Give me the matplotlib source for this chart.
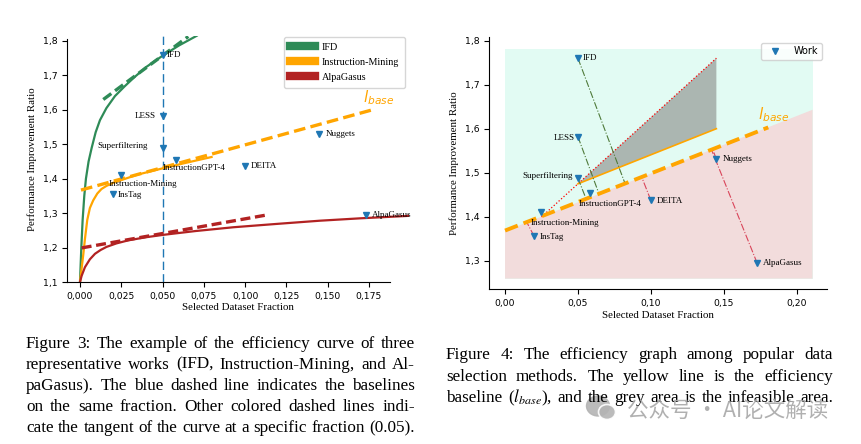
import matplotlib.pyplot as plt
from matplotlib.lines import Line2D
from matplotlib.patches import Polygon, Rectangle, Ellipse

W, H = 861, 444

# --- data ---
works = ['IFD', 'LESS', 'Superfiltering', 'InstructionGPT-4', 'DEITA',
         'Nuggets', 'AlpaGasus', 'InsTag', 'Instruction-Mining']
work_x = [0.05, 0.05, 0.05, 0.058, 0.10, 0.145, 0.173, 0.020, 0.025]
work_y = [1.760, 1.582, 1.488, 1.455, 1.438, 1.531, 1.295, 1.356, 1.412]

# figure 3: efficiency curves
ifd_x = [0, 0.0008, 0.0016, 0.0026, 0.0036, 0.0052, 0.0071, 0.0095, 0.0121,
         0.016, 0.0212, 0.027, 0.0323, 0.040, 0.050, 0.060, 0.0707]
ifd_y = [1.10, 1.20, 1.28, 1.35, 1.40, 1.45, 1.49, 1.535, 1.57,
         1.605, 1.64, 1.668, 1.692, 1.724, 1.757, 1.787, 1.815]
im_x = [0, 0.001, 0.002, 0.003, 0.0044, 0.006, 0.008, 0.0105, 0.013,
        0.016, 0.020, 0.025, 0.035, 0.050, 0.065, 0.0797]
im_y = [1.10, 1.14, 1.18, 1.225, 1.28, 1.315, 1.337, 1.357, 1.370,
        1.379, 1.388, 1.396, 1.412, 1.430, 1.447, 1.463]
alpa_x = [0, 0.001, 0.003, 0.006, 0.0091, 0.0125, 0.0161, 0.022, 0.0293,
          0.040, 0.0505, 0.070, 0.0929, 0.120, 0.1453, 0.170, 0.1988]
alpa_y = [1.10, 1.118, 1.143, 1.166, 1.182, 1.193, 1.202, 1.212, 1.221,
          1.230, 1.237, 1.248, 1.259, 1.269, 1.278, 1.285, 1.292]
ifd_tan_x, ifd_tan_y = [0.0141, 0.0656], [1.630, 1.813]
alpa_tan_x, alpa_tan_y = [0.001, 0.1147], [1.199, 1.296]
base1_x, base1_y = [0.0006, 0.1786], [1.367, 1.602]
xticks1 = [0, 0.025, 0.05, 0.075, 0.10, 0.125, 0.15, 0.175]
xlabels1 = ['0,000', '0,025', '0,050', '0,075', '0,100', '0,125', '0,150', '0,175']
yticks1 = [1.1, 1.2, 1.3, 1.4, 1.5, 1.6, 1.7, 1.8]
ylabels1 = ['1,1', '1,2', '1,3', '1,4', '1,5', '1,6', '1,7', '1,8']

# figure 4: efficiency graph
base2_x, base2_y = [0.0, 0.1806], [1.369, 1.603]
feas_x, feas_y = [0.0, 0.211], [1.26, 1.78]
below_x = [0.0, 0.211, 0.211, 0.0]
below_y = [1.368, 1.643, 1.26, 1.26]
infeas_x = [0.05, 0.145, 0.145]
infeas_y = [1.475, 1.76, 1.60]
bound_x, bound_y = [0.025, 0.145], [1.40, 1.76]
shift_x, shift_y = [0.05, 0.145], [1.475, 1.60]
above_proj = [([0.05, 0.0823], [1.760, 1.476]),
              ([0.05, 0.0645], [1.582, 1.452]),
              ([0.05, 0.0556], [1.488, 1.441])]
below_proj = [([0.020, 0.0149], [1.356, 1.388]),
              ([0.10, 0.0937], [1.438, 1.491]),
              ([0.145, 0.1424], [1.531, 1.554]),
              ([0.173, 0.1417], [1.295, 1.552])]
xticks2 = [0, 0.05, 0.10, 0.15, 0.20]
xlabels2 = ['0,00', '0,05', '0,10', '0,15', '0,20']
yticks2 = [1.3, 1.4, 1.5, 1.6, 1.7, 1.8]
ylabels2 = ['1,3', '1,4', '1,5', '1,6', '1,7', '1,8']

cap3 = ["Figure 3: The example of the efficiency curve of three",
        "representative works (IFD, Instruction-Mining, and Al-",
        "paGasus). The blue dashed line indicates the baselines",
        "on the same fraction. Other colored dashed lines indi-",
        "cate the tangent of the curve at a specific fraction (0.05)."]
cap4 = ["Figure 4: The efficiency graph among popular data",
        "selection methods. The yellow line is the efficiency",
        "baseline ($l_{base}$), and the grey area is the infeasible area."]

plt.rcParams['font.family'] = ['Liberation Serif', 'DejaVu Serif']
GREEN, ORANGE, RED, BLUE = '#2e8b57', '#ffa500', '#b22222', '#1f77b4'

fig = plt.figure(figsize=(W / 100, H / 100), dpi=100)


def style_axes(ax):
    for s in ['top', 'right']:
        ax.spines[s].set_visible(False)
    ax.tick_params(labelsize=6.7, labelfontfamily='DejaVu Sans', length=3.5, width=0.8)
    ax.set_xlabel('Selected Dataset Fraction', fontsize=7.8, labelpad=2)
    ax.set_ylabel('Performance Improvement Ratio', fontsize=7.8, labelpad=4)


def label_works(ax, offs):
    for name, x, y in zip(works, work_x, work_y):
        dx, dy, ha = offs[name]
        ax.annotate(name, (x, y), xytext=(dx, dy), textcoords='offset pixels',
                    ha=ha, va='center', fontsize=6.5, zorder=6)


# ---------------- Figure 3 ----------------
ax1 = fig.add_axes([67 / W, (H - 282) / H, 341.5 / W, 246.2 / H])
ax1.set_xlim(-0.00787, 0.199)
ax1.set_ylim(1.1, 1.815)
ax1.spines['bottom'].set_bounds(-0.00787, 0.1878)
ax1.spines['left'].set_bounds(1.1, 1.806)
ax1.axvline(0.05, color=BLUE, lw=1, dashes=(6, 3), zorder=1)
ax1.plot(ifd_x, ifd_y, color=GREEN, lw=1.6)
ax1.plot(im_x, im_y, color=ORANGE, lw=1.6)
ax1.plot(alpa_x, alpa_y, color=RED, lw=1.6)
ax1.plot(ifd_tan_x, ifd_tan_y, color=GREEN, lw=2.4, dashes=(3, 1.4))
ax1.plot(alpa_tan_x, alpa_tan_y, color=RED, lw=2.4, dashes=(3, 1.4))
ax1.plot(base1_x, base1_y, color=ORANGE, lw=2.4, dashes=(3.5, 1.6))
ax1.plot(work_x, work_y, 'v', color=BLUE, ms=5, zorder=5)
ax1.text(0.1716, 1.621, r'$l_{base}$', color=ORANGE, fontsize=11,
         math_fontfamily='dejavusans')
label_works(ax1, {'IFD': (4, 0, 'left'), 'LESS': (-7, 0, 'right'),
                  'Superfiltering': (-15, 2, 'right'),
                  'InstructionGPT-4': (-13, -8, 'left'),
                  'DEITA': (6, 0, 'left'), 'Nuggets': (6, 0, 'left'),
                  'AlpaGasus': (6, 0, 'left'), 'InsTag': (5, -1, 'left'),
                  'Instruction-Mining': (-13, -9, 'left')})
ax1.set_xticks(xticks1, xlabels1)
ax1.set_yticks(yticks1, ylabels1)
style_axes(ax1)
handles = [Line2D([], [], color=c, lw=6) for c in [GREEN, ORANGE, RED]]
ax1.legend(handles, ['IFD', 'Instruction-Mining', 'AlpaGasus'], loc='upper right',
           bbox_to_anchor=(405 / W, 1 - 37 / H), bbox_transform=fig.transFigure,
           borderaxespad=0, fontsize=7.3, handlelength=2.5, labelspacing=0.6,
           borderpad=0.55, handletextpad=0.7)

# ---------------- Figure 4 ----------------
ax2 = fig.add_axes([489.3 / W, (H - 289) / H, 337.7 / W, 252 / H])
ax2.set_xlim(-0.0108, 0.2209)
ax2.set_ylim(1.2365, 1.808)
ax2.add_patch(Rectangle((feas_x[0], feas_y[0]), feas_x[1] - feas_x[0],
                        feas_y[1] - feas_y[0], color='#e2fbf3', lw=0, zorder=0))
ax2.add_patch(Polygon(list(zip(below_x, below_y)), color='#f2dcdc', lw=0, zorder=0.5))
ax2.add_patch(Polygon(list(zip(infeas_x, infeas_y)), color='#abb6b1', lw=0, zorder=1))
ax2.plot(bound_x, bound_y, color='red', ls=':', lw=0.9, zorder=2)
ax2.plot(shift_x, shift_y, color=ORANGE, lw=1.2, zorder=2)
for xs, ys in above_proj:
    ax2.plot(xs, ys, color='#4f7a3a', ls='-.', lw=0.8, zorder=2)
for xs, ys in below_proj:
    ax2.plot(xs, ys, color='#d9455a', ls='-.', lw=0.8, zorder=2)
ax2.plot(base2_x, base2_y, color=ORANGE, lw=2.8, dashes=(3.5, 1.6), zorder=3)
ax2.plot(work_x, work_y, 'v', color=BLUE, ms=5, zorder=5, label='Work')
ax2.text(0.1737, 1.6215, r'$l_{base}$', color=ORANGE, fontsize=11,
         math_fontfamily='dejavusans')
label_works(ax2, {'IFD': (5, 0, 'left'), 'LESS': (-3, -1, 'right'),
                  'Superfiltering': (-5, 2, 'right'),
                  'InstructionGPT-4': (-11, -11, 'left'),
                  'DEITA': (6, -1, 'left'), 'Nuggets': (6, 0, 'left'),
                  'AlpaGasus': (6, 0, 'left'), 'InsTag': (5, -1, 'left'),
                  'Instruction-Mining': (-11, -11, 'left')})
ax2.set_xticks(xticks2, xlabels2)
ax2.set_yticks(yticks2, ylabels2)
style_axes(ax2)
ax2.legend(loc='upper right', bbox_to_anchor=(822 / W, 1 - 43 / H),
           bbox_transform=fig.transFigure, borderaxespad=0,
           prop={'family': 'DejaVu Sans', 'size': 7}, handlelength=2.3,
           borderpad=0.35)


# ---------------- captions ----------------
def justify(lines, x0, x1, y0, dy, size):
    r = fig.canvas.get_renderer()
    for i, line in enumerate(lines):
        words = line.split()
        texts = [fig.text(0, 1 - (y0 + i * dy) / H, w, fontsize=size, va='baseline',
                          ha='left', math_fontfamily='stix') for w in words]
        widths = [t.get_window_extent(r).width for t in texts]
        gap = (x1 - x0 - sum(widths)) / (len(words) - 1)
        x = x0
        for t, w in zip(texts, widths):
            t.set_x(x / W)
            x += w + gap


justify(cap3, 26, 415, 347.5, 21.1, 12.3)
justify(cap4, 446, 833, 359.3, 21.5, 12.3)

# watermark
fig.add_artist(Ellipse((598 / W, 1 - 406 / H), 23 / W, 20 / H, transform=fig.transFigure,
                       color='#b4b4b4', alpha=0.9))
fig.add_artist(Ellipse((607 / W, 1 - 412 / H), 17 / W, 15 / H, transform=fig.transFigure,
                       fc='#b4b4b4', ec='white', lw=1.2, alpha=0.9))
fig.text(627 / W, 1 - 411 / H, '公众号 · AI论文解读', fontsize=15.5, color='#a8a8a8',
         alpha=0.9, va='center', ha='left', family=['Noto Sans CJK SC', 'DejaVu Sans'])

fig.savefig('out.png', dpi=100)
